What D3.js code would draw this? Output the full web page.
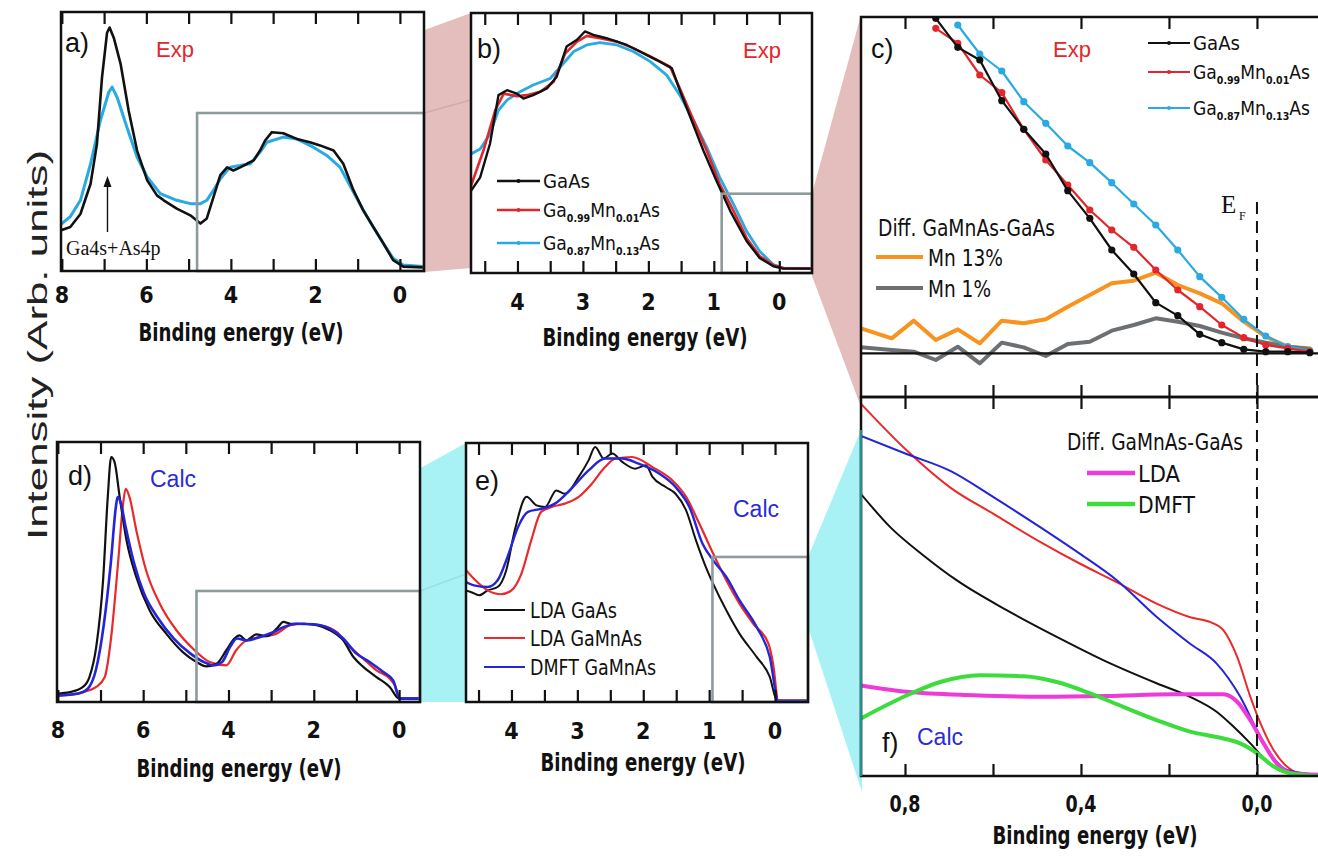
<!DOCTYPE html>
<html>
<head>
<meta charset="utf-8">
<script src="https://cdn.jsdelivr.net/npm/d3@7"></script>
<style>
  body { margin: 0; background: #fff; }
  svg { display: block; }
</style>
</head>
<body>
<svg id="fig" width="1318" height="856"></svg>
<script>
// ---- data (binding energy in eV, intensity in arb. units) ----

// panel a) experiment, wide range
const aGaAsE = [8.0,7.8,7.56,7.32,7.17,7.05,6.93,6.87,6.77,6.61,6.42,6.22,5.98,5.75,5.59,5.28,4.96,4.72,4.57,4.41,4.25,4.09,3.94,3.78,3.62,3.46,3.31,3.19,3.03,2.76,2.44,2.13,1.89,1.57,1.34,1.1,0.87,0.63,0.39,0.16,-0.08,-0.55];
const aGaAsI = [15.8,17,22,33.7,49,74.7,92,94,90,80,62,46.5,35,29.2,27.3,24.1,21.5,18.3,20.3,28.6,37,40,38.8,40,41.4,42.7,46.5,50.4,53.6,53.2,51,49.7,48.5,46.5,41.4,31.2,23.5,17,10.6,4.2,1.7,1.4];
const aMn13E = [8.0,7.8,7.56,7.32,7.09,6.89,6.81,6.69,6.46,6.22,5.98,5.67,5.28,4.96,4.72,4.57,4.41,4.25,4.02,3.78,3.54,3.31,3.15,2.76,2.44,2.05,1.73,1.42,1.1,0.87,0.63,0.39,0.16,-0.08,-0.55];
const aMn13I = [18.3,21,27.3,41.4,58,69,71,67,55.5,44,36.3,29.9,27.3,26,26,27.3,31.2,35.6,40.1,40.7,41.4,45.9,49.7,51.7,51,47.8,44.6,40.1,30.5,23.5,17,10.6,4.9,2.3,1.7];

// panel b) experiment, valence band
const bGaAsE = [4.71,4.57,4.42,4.29,4.16,4.01,3.91,3.76,3.55,3.4,3.25,3.09,2.97,2.84,2.64,2.33,2.13,1.87,1.64,1.52,1.36,1.16,0.96,0.75,0.5,0.3,0.09,-0.06,-0.5];
const bGaAsI = [31.6,36.8,49.7,68.4,70.3,69,67.1,68.4,71,75.5,87.1,89.7,92.9,91.6,90.3,87.7,85.2,81.9,78.7,70.3,60,47.1,35.5,23.9,12.3,5.8,2.6,1.7,1.7];
const bMn01E = [4.71,4.52,4.34,4.21,4.01,3.86,3.65,3.45,3.27,3.09,2.94,2.74,2.48,2.23,1.92,1.67,1.52,1.31,1.11,0.91,0.7,0.5,0.3,0.09,-0.06,-0.5];
const bMn01I = [33.5,47.1,62.6,69,68,68.4,69.7,73.5,84.5,89,91.2,90.3,89,86.5,82.6,79.4,71,58.7,47.1,34.2,23.9,13.5,6.5,3,1.9,1.7];
const bMn13E = [4.71,4.57,4.42,4.29,4.16,3.96,3.76,3.5,3.32,3.14,2.94,2.74,2.48,2.23,1.97,1.72,1.52,1.31,1.11,0.91,0.7,0.5,0.3,0.09,-0.06,-0.5];
const bMn13I = [45.8,47.7,53.5,62.6,66.5,69.7,72.3,74.8,80,85.2,87.7,88.6,87.7,85.2,81.3,76.1,68.4,58.7,48.4,36.8,26.5,16.1,8.4,3.2,1.9,1.7];

// panel c) experiment near E_F
const cExpE = [0.73,0.68,0.63,0.58,0.53,0.48,0.43,0.38,0.33,0.28,0.23,0.18,0.13,0.08,0.03,-0.02,-0.07,-0.12];
const cGaAs = [100.5,91.8,88,75.8,67.2,59.8,48.8,40.5,31,23.8,15.2,11.3,5.7,3.2,1.2,0.5,0.5,0.2];
const cMn01 = [97.5,93,83.5,78.2,67.2,58,50.5,43,37,31.8,25,19,14,8.5,4.7,2.5,1.5,0.5];
const cMn13E = [0.68,0.63,0.58,0.53,0.48,0.43,0.38,0.33,0.28,0.23,0.18,0.13,0.08,0.03,-0.02,-0.07,-0.12];
const cMn13 = [98.5,89.8,84.7,75.5,69,62.2,57.2,51.2,44.8,38.5,31,23,16.8,10.2,5.2,2,0.8];
const cDiffE = [0.9,0.83,0.78,0.73,0.68,0.63,0.58,0.53,0.48,0.43,0.38,0.33,0.28,0.23,0.18,0.13,0.08,0.03,-0.02,-0.07,-0.12];
const cDiff13 = [7.5,4.5,9.8,4,7.2,3,9.8,9,10.2,14,17.5,21,21.8,24.2,20.5,18,15,9.5,5,2,1.5];
const cDiff01 = [1.8,1.0,0.5,-2,2,-3,3.2,1.8,-0.8,2.8,3.5,6.8,8.5,10.5,9.5,8.2,6.2,4.5,3.2,2,1.2];

// panel d) calculation, wide range
const dLdaGaAsE = [8.04,7.72,7.41,7.26,7.1,6.94,6.83,6.75,6.67,6.55,6.39,6.16,5.85,5.46,5.07,4.75,4.52,4.28,4.05,3.86,3.74,3.58,3.35,3.1,2.87,2.71,2.55,2.24,1.93,1.62,1.31,1.07,0.84,0.53,0.22,0,-0.5];
const dLdaGaAs = [3.2,3.8,5.8,9.6,21.2,46.8,78.8,94.2,92.3,78.8,62.2,48,35.3,26.3,19.2,15.4,13.7,14.7,19.9,24.4,25.6,23.7,26,25.3,28.2,30.8,30.1,30.1,29.5,27.6,23.7,17.3,13.5,9.6,5.8,1.3,1.3];
const dLdaMnE = [8.04,7.41,7.1,6.9,6.75,6.59,6.47,6.41,6.32,6.16,5.93,5.61,5.22,4.83,4.44,4.05,3.82,3.58,3.26,2.87,2.55,2.24,1.85,1.46,1.15,0.84,0.53,0.22,0.1,-0.02,-0.5];
const dLdaMn = [2.2,3.8,5.8,9.6,25,53.2,76.3,82,78.8,66,50.6,37.8,27.6,20.5,15.4,14.1,19.9,23.7,25,26.3,29.5,30.1,29.5,26.9,21.2,16.7,12.2,9,6.4,1.3,1.3];
const dDmftE = [8.04,7.54,7.3,7.11,6.92,6.76,6.64,6.6,6.53,6.41,6.21,5.98,5.67,5.28,4.89,4.58,4.35,4.15,3.96,3.8,3.57,3.26,2.94,2.71,2.4,2.01,1.62,1.31,1.0,0.69,0.37,0.14,-0.02,-0.5];
const dDmft = [2.6,3.2,5.1,12.2,30.1,53.2,75,78.8,76.9,67.3,53.2,41.7,32.7,24.4,18.6,15.4,14.1,15.4,21.2,24.4,23.7,25,26.9,28.8,30.1,29.9,28.2,24.4,18.6,15.4,11.5,8.3,1.3,1.3];

// panel e) calculation, valence band
const eLdaGaAsE = [4.73,4.62,4.49,4.36,4.21,4.08,3.95,3.77,3.62,3.49,3.32,3.19,2.98,2.83,2.73,2.6,2.47,2.32,2.12,1.96,1.86,1.66,1.51,1.35,1.2,1.05,0.94,0.74,0.54,0.28,0.08,-0.03,-0.5];
const eLdaGaAs = [43.1,42.5,41.2,43.1,44.4,50.8,66.3,79.2,75.9,75.3,81.7,80.4,86.9,93.3,98.5,94,95.9,92.7,90.1,91.4,86.9,83,80.4,74,62.4,52.1,45.7,35.4,26.4,17.4,9.7,0.5,0.5];
const eLdaMnE = [4.73,4.57,4.36,4.16,4.0,3.85,3.7,3.55,3.39,3.19,2.98,2.78,2.58,2.42,2.17,1.86,1.56,1.35,1.15,0.94,0.74,0.54,0.33,0.1,0.03,-0.05,-0.5];
const eLdaMn = [52.1,47.6,43.1,41.6,43.1,49.5,62.4,73.4,75.3,76.6,79.2,84.3,90.7,94,94.6,90.7,85.6,79.2,68.9,57.3,47,38,30.2,22.5,14.8,0.5,0.5];
const eDmftE = [4.73,4.57,4.36,4.21,4.06,3.9,3.75,3.55,3.34,3.09,2.83,2.58,2.32,2.07,1.76,1.51,1.3,1.1,0.94,0.74,0.54,0.28,0.08,-0.05,-0.5];
const eDmft = [47,45,44.4,47,56,67.6,73.4,74.6,76.6,82.4,89.4,94,94,92,88.2,83,75.3,61.1,54.7,48.3,39.3,29,17.4,0.5,0.5];

// panel f) calculation near E_F
const fLdaMnE = [0.9,0.795,0.697,0.598,0.492,0.402,0.318,0.227,0.152,0.106,0.076,0.045,0.015,-0.008,-0.038,-0.068,-0.098,-0.14];
const fLdaMn = [98.2,85.8,76.1,69.1,61.7,56,51.1,45.4,41.9,40.6,38.4,31.4,20.9,13.9,6.8,2.5,0.7,0.3];
const fDmftE = [0.9,0.795,0.697,0.598,0.492,0.402,0.318,0.227,0.152,0.091,0.038,0,-0.03,-0.068,-0.14];
const fDmft = [89.7,84.9,80.5,73.5,65.6,58.6,51.6,41.9,34.9,29.6,20.9,12.1,6,1.6,0.3];
const fLdaGaAsE = [0.9,0.833,0.758,0.682,0.568,0.455,0.341,0.227,0.152,0.091,0.053,0.015,-0.023,-0.061,-0.14];
const fLdaGaAs = [74.4,65.6,58.2,51.6,43.7,36.7,30.1,24.4,20.9,16.9,13,8.6,3.8,1.1,0];
const fDiffLdaE = [0.9,0.795,0.644,0.492,0.341,0.189,0.076,0.045,0.015,-0.015,-0.045,-0.083,-0.14];
const fDiffLda = [23.9,22.2,21.3,20.9,21.1,21.6,21.6,19.6,14.7,8.6,3.3,0.7,0.3];
const fDiffDmftE = [0.9,0.795,0.72,0.629,0.53,0.455,0.379,0.303,0.227,0.152,0.076,0.038,0,-0.038,-0.076,-0.14];
const fDiffDmft = [15.2,21.3,24.8,26.6,26.3,24.8,21.8,18.2,14.7,11.7,9.9,8.6,6,2.5,0.7,0];

// tick values and labels
const wideTicks = [0,1,2,3,4,5,6,7,8];
const wideLabels = [8,6,4,2,0];
const vbTicks = [0,0.5,1,1.5,2,2.5,3,3.5,4,4.5];
const vbLabels = [4,3,2,1,0];
const efTicks = [0.8,0.6,0.4,0.2,0];
const efLabels = [0.8,0.4,0];

// ---- styling ----
const NARROW = '"Liberation Sans Narrow","Arial Narrow","DejaVu Sans Condensed",sans-serif';
const SANS = '"Liberation Sans",Arial,sans-serif';
const SERIF = '"Liberation Serif","Times New Roman",serif';
const C = {
  ink: '#111', expRed: '#e3262c', expCyan: '#2aaae2', red: '#ea2a2a', blue: '#2424d8',
  orange: '#f7931e', gray: '#6d7073', magenta: '#ee3bd8', green: '#3ddc3d',
  box: '#8d9b9d', pink: '#e4bdbd', cyan: '#a8f1f5', calc: '#2a2ad8'
};

const svg = d3.select('#fig');
const defs = svg.append('defs');
const layerWedge = svg.append('g');
const layerBg = svg.append('g');
const layerData = svg.append('g');
const layerFrame = svg.append('g');
const layerText = svg.append('g');

function panel(id, px, py, xd, yd) {
  const x = d3.scaleLinear().domain(xd).range(px);
  const y = d3.scaleLinear().domain(yd).range(py);
  defs.append('clipPath').attr('id', 'clip-' + id)
    .append('rect').attr('x', px[0]).attr('y', py[1])
    .attr('width', px[1] - px[0]).attr('height', py[0] - py[1]);
  layerBg.append('rect').attr('x', px[0]).attr('y', py[1])
    .attr('width', px[1] - px[0]).attr('height', py[0] - py[1]).attr('fill', '#fff');
  const g = layerData.append('g').attr('clip-path', `url(#clip-${id})`);
  return { id, x, y, g, px, py };
}

function frame(p) {
  layerFrame.append('rect').attr('x', p.px[0]).attr('y', p.py[1])
    .attr('width', p.px[1] - p.px[0]).attr('height', p.py[0] - p.py[1])
    .attr('fill', 'none').attr('stroke', C.ink).attr('stroke-width', 2.5);
}

function ticks(p, vals, where, len) {
  const ax = where === 'top' ? d3.axisTop(p.x) : d3.axisBottom(p.x);
  const g = layerFrame.append('g')
    .attr('transform', `translate(0,${where === 'top' ? p.py[1] : p.py[0]})`)
    .call(ax.tickValues(vals).tickSizeInner(-len).tickSizeOuter(0).tickFormat(''));
  g.select('.domain').remove();
  g.selectAll('line').attr('stroke', C.ink).attr('stroke-width', 2.2);
}

function tickLabels(p, vals, baseline, fmt, len) {
  const t = layerText.append('g').selectAll('text').data(vals).join('text')
    .attr('x', d => p.x(d)).attr('y', baseline)
    .attr('text-anchor', 'middle')
    .attr('font-family', NARROW).attr('font-weight', 'bold').attr('font-size', 23)
    .attr('fill', C.ink)
    .text(fmt || (d => d));
  if (len) t.attr('textLength', len).attr('lengthAdjust', 'spacingAndGlyphs');
}

function xTitle(cx, baseline) {
  layerText.append('text').attr('x', cx).attr('y', baseline)
    .attr('text-anchor', 'middle').attr('font-family', NARROW)
    .attr('font-weight', 'bold').attr('font-size', 24).attr('fill', C.ink)
    .attr('textLength', 205).attr('lengthAdjust', 'spacingAndGlyphs')
    .text('Binding energy (eV)');
}

function curve(p, E, I, color, width, kind, dotR) {
  const pts = E.map((e, i) => [e, I[i]]);
  const line = d3.line().x(d => p.x(d[0])).y(d => p.y(d[1]))
    .curve(kind === 'smooth' ? d3.curveMonotoneX : d3.curveLinear);
  p.g.append('path').datum(pts).attr('d', line)
    .attr('fill', 'none').attr('stroke', color).attr('stroke-width', width)
    .attr('stroke-linejoin', 'round').attr('stroke-linecap', 'round');
  if (dotR) {
    p.g.append('g').selectAll('circle').data(pts).join('circle')
      .attr('cx', d => p.x(d[0])).attr('cy', d => p.y(d[1])).attr('r', dotR)
      .attr('fill', color);
  }
}

function zoomBox(p, eLeft, vTop) {
  layerFrame.append('rect')
    .attr('x', p.x(eLeft)).attr('y', p.y(vTop))
    .attr('width', p.px[1] - p.x(eLeft)).attr('height', p.py[0] - p.y(vTop))
    .attr('fill', 'none').attr('stroke', C.box).attr('stroke-width', 2.6);
}

function label(x, y, txt, opts) {
  const t = layerText.append('text').attr('x', x).attr('y', y)
    .attr('font-family', opts.font || SANS).attr('font-size', opts.size || 22)
    .attr('fill', opts.color || C.ink).text(txt);
  if (opts.weight) t.attr('font-weight', opts.weight);
  if (opts.anchor) t.attr('text-anchor', opts.anchor);
  if (opts.len) t.attr('textLength', opts.len).attr('lengthAdjust', 'spacingAndGlyphs');
  return t;
}

// formula with subscripts, e.g. Ga_{0.99}Mn_{0.01}As
function formula(x, y, parts, size, len) {
  const t = layerText.append('text').attr('x', x).attr('y', y)
    .attr('font-family', NARROW).attr('font-size', size).attr('fill', C.ink);
  let shift = 0;
  parts.forEach(([s, sub]) => {
    const ts = t.append('tspan').text(s);
    if (sub && shift === 0) { ts.attr('dy', 5).attr('font-size', size * 0.55).attr('font-weight', 'bold'); shift = 5; }
    else if (!sub && shift !== 0) { ts.attr('dy', -5); shift = 0; }
  });
  if (len) t.attr('textLength', len).attr('lengthAdjust', 'spacingAndGlyphs');
  return t;
}

function legendLine(x0, x1, y, color, width, dot) {
  layerText.append('line').attr('x1', x0).attr('x2', x1).attr('y1', y).attr('y2', y)
    .attr('stroke', color).attr('stroke-width', width);
  if (dot) layerText.append('circle').attr('cx', (x0 + x1) / 2).attr('cy', y).attr('r', 2).attr('fill', color);
}

// ---- panels ----
const pa = panel('a', [61, 424], [271, 12], [8.02, -0.57], [0, 100]);
const pb = panel('b', [471, 812], [273, 13], [4.71, -0.5], [0, 100]);
const pc = panel('c', [861, 1330], [397, 17], [0.9, -0.166], [-13.1, 100.9]);
const pd = panel('d', [57, 420], [702, 442], [8.02, -0.49], [0, 100]);
const pe = panel('e', [466, 808], [702, 443], [4.69, -0.5], [0, 100]);
const pf = panel('f', [861, 1330], [776, 397], [0.9, -0.166], [0, 100]);

// zoom wedges behind panels
const wedges = [
  { fill: C.pink, pts: [[pa.x(4.8), pa.y(61)], [pb.px[0], pb.py[1]], [pb.px[0], pb.py[0] - 5], [pa.px[1], pa.py[0] + 1]] },
  { fill: C.pink, pts: [[pb.px[1], pb.y(30.5)], [pc.px[0], pc.py[1] - 2], [pc.px[0], pc.py[0] + 10], [pb.px[1], pb.py[0] + 3]] },
  { fill: C.cyan, pts: [[pd.x(4.75), pd.y(42.7)], [pe.px[0], pe.py[1]], [pe.px[0], pe.py[0]], [pd.px[1], pd.py[0]]] },
  { fill: C.cyan, pts: [[pe.px[1], pe.y(56)], [pf.px[0], 430], [pf.px[0] + 1, 792], [pe.px[1], 627]] }
];
layerWedge.selectAll('polygon').data(wedges).join('polygon')
  .attr('points', d => d.pts.map(p => p.join(',')).join(' '))
  .attr('fill', d => d.fill);
layerWedge.append('line').attr('x1', pa.px[1]).attr('y1', pa.y(61)).attr('x2', pb.px[0]).attr('y2', 100)
  .attr('stroke', '#d6a9a9').attr('stroke-width', 1.5);
layerWedge.append('line').attr('x1', pd.px[1]).attr('y1', pd.y(42.7)).attr('x2', pe.px[0]).attr('y2', 574)
  .attr('stroke', '#9adfe3').attr('stroke-width', 1.5);

// a)
curve(pa, aMn13E, aMn13I, C.expCyan, 3, 'lin');
curve(pa, aGaAsE, aGaAsI, C.ink, 2.6, 'lin');
zoomBox(pa, 4.8, 61);
frame(pa);
ticks(pa, wideTicks, 'top', 12); ticks(pa, wideTicks, 'bottom', 12);
tickLabels(pa, wideLabels, 303);
xTitle(241, 341);

// b)
curve(pb, bMn13E, bMn13I, C.expCyan, 2.8, 'lin');
curve(pb, bMn01E, bMn01I, C.expRed, 2.6, 'lin');
curve(pb, bGaAsE, bGaAsI, C.ink, 2.4, 'lin');
zoomBox(pb, 0.88, 30.5);
frame(pb);
ticks(pb, vbTicks, 'top', 12); ticks(pb, vbTicks, 'bottom', 12);
tickLabels(pb, vbLabels, 310);
xTitle(645, 346);

// c)
curve(pc, cDiffE, cDiff13, C.orange, 4, 'lin');
curve(pc, cDiffE, cDiff01, C.gray, 4, 'lin');
curve(pc, cMn13E, cMn13, C.expCyan, 2.2, 'lin', 3.6);
curve(pc, cExpE, cMn01, C.expRed, 2.2, 'lin', 3.6);
curve(pc, cExpE, cGaAs, C.ink, 2.2, 'lin', 3.6);
layerFrame.append('line').attr('x1', pc.px[0]).attr('x2', 1318)
  .attr('y1', pc.y(0)).attr('y2', pc.y(0)).attr('stroke', C.ink).attr('stroke-width', 2.2);
frame(pc);
ticks(pc, efTicks, 'top', 12); ticks(pc, efTicks, 'bottom', 12);

// d)
curve(pd, dLdaMnE, dLdaMn, C.red, 2.2, 'smooth');
curve(pd, dLdaGaAsE, dLdaGaAs, C.ink, 2.2, 'smooth');
curve(pd, dDmftE, dDmft, C.blue, 2.6, 'smooth');
zoomBox(pd, 4.75, 42.7);
frame(pd);
ticks(pd, wideTicks, 'top', 12); ticks(pd, wideTicks, 'bottom', 12);
tickLabels(pd, wideLabels, 738);
xTitle(239, 777);

// e)
curve(pe, eLdaGaAsE, eLdaGaAs, C.ink, 2, 'smooth');
curve(pe, eLdaMnE, eLdaMn, C.red, 2.2, 'smooth');
curve(pe, eDmftE, eDmft, C.blue, 2.4, 'smooth');
zoomBox(pe, 0.95, 56);
frame(pe);
ticks(pe, vbTicks, 'top', 12); ticks(pe, vbTicks, 'bottom', 12);
tickLabels(pe, vbLabels, 739);
xTitle(643, 771);

// f)
curve(pf, fLdaGaAsE, fLdaGaAs, C.ink, 2, 'smooth');
curve(pf, fLdaMnE, fLdaMn, C.red, 2, 'smooth');
curve(pf, fDmftE, fDmft, C.blue, 2, 'smooth');
curve(pf, fDiffLdaE, fDiffLda, C.magenta, 4, 'smooth');
curve(pf, fDiffDmftE, fDiffDmft, C.green, 4, 'smooth');
frame(pf);
layerFrame.append('line').attr('x1', pf.px[0]).attr('x2', pf.px[0]).attr('y1', 430).attr('y2', pf.py[0])
  .attr('stroke', '#2c8b8d').attr('stroke-width', 2.5);
ticks(pf, efTicks, 'top', 12); ticks(pf, efTicks, 'bottom', 12);
tickLabels(pf, efLabels, 812, d => d3.format('.1f')(d).replace('.', ','), 31);
xTitle(1095, 844);

// Fermi level
layerFrame.append('line').attr('x1', pc.x(0)).attr('x2', pc.x(0)).attr('y1', 202).attr('y2', pf.py[0])
  .attr('stroke', C.ink).attr('stroke-width', 2).attr('stroke-dasharray', '12,7');
label(1221, 213, 'E', { font: SERIF, size: 25 });
label(1239, 220, 'F', { font: SERIF, size: 12 });

// panel labels
label(65, 52, 'a)', { size: 27 });
label(156, 57, 'Exp', { size: 22, color: C.expRed });
label(477, 58, 'b)', { size: 27 });
label(743, 58, 'Exp', { size: 22, color: C.expRed });
label(871, 58, 'c)', { size: 27 });
label(1053, 57, 'Exp', { size: 22, color: C.expRed });
label(68, 485, 'd)', { size: 27 });
label(150, 487, 'Calc', { size: 23, color: C.calc });
label(475, 490, 'e)', { size: 27 });
label(733, 517, 'Calc', { size: 23, color: C.calc });
label(882, 752, 'f)', { size: 27 });
label(917, 745, 'Calc', { size: 23, color: C.calc });

// a) annotation
layerText.append('line').attr('x1', pa.x(6.92)).attr('x2', pa.x(6.92)).attr('y1', 232).attr('y2', 184)
  .attr('stroke', C.ink).attr('stroke-width', 1.4);
layerText.append('path')
  .attr('d', `M${pa.x(6.92)},176 l-4,11 l8,0 z`).attr('fill', C.ink);
label(66, 255, 'Ga4s+As4p', { font: SERIF, size: 20 });

// b) legend
const bLegend = [
  { color: C.ink, y: 181, parts: [['GaAs']], len: 47 },
  { color: C.expRed, y: 210, parts: [['Ga'], ['0.99', 1], ['Mn'], ['0.01', 1], ['As']], len: 117 },
  { color: C.expCyan, y: 243, parts: [['Ga'], ['0.87', 1], ['Mn'], ['0.13', 1], ['As']], len: 117 }
];
bLegend.forEach(r => {
  legendLine(497, 540, r.y, r.color, 2.4, true);
  formula(543, r.y + 7, r.parts, 20, r.len);
});

// c) legends
const cLegend = [
  { color: C.ink, y: 43, parts: [['GaAs']], len: 47 },
  { color: C.expRed, y: 72, parts: [['Ga'], ['0.99', 1], ['Mn'], ['0.01', 1], ['As']], len: 117 },
  { color: C.expCyan, y: 108, parts: [['Ga'], ['0.87', 1], ['Mn'], ['0.13', 1], ['As']], len: 117 }
];
cLegend.forEach(r => {
  legendLine(1148, 1190, r.y, r.color, 2, true);
  formula(1193, r.y + 7, r.parts, 20, r.len);
});
label(878, 236, 'Diff. GaMnAs-GaAs', { font: NARROW, size: 23, len: 177 });
legendLine(876, 923, 257, C.orange, 4);
label(928, 266, 'Mn 13%', { font: NARROW, size: 23, len: 75 });
legendLine(876, 923, 288, C.gray, 4);
label(928, 297, 'Mn 1%', { font: NARROW, size: 23, len: 63 });

// e) legend
const eLegend = [
  { color: C.ink, y: 610, text: 'LDA GaAs', len: 87 },
  { color: C.red, y: 638, text: 'LDA GaMnAs', len: 112 },
  { color: C.blue, y: 667, text: 'DMFT GaMnAs', len: 126 }
];
eLegend.forEach(r => {
  legendLine(484, 525, r.y, r.color, 2);
  label(530, r.y + 8, r.text, { font: NARROW, size: 22, len: r.len });
});

// f) legend
label(1067, 450, 'Diff. GaMnAs-GaAs', { font: NARROW, size: 23, len: 176 });
legendLine(1087, 1135, 473, C.magenta, 4.5);
label(1138, 482, 'LDA', { font: NARROW, size: 23, len: 42 });
legendLine(1087, 1135, 504, C.green, 4.5);
label(1138, 513, 'DMFT', { font: NARROW, size: 23, len: 57 });

// shared y label
layerText.append('text')
  .attr('transform', 'translate(47,345) rotate(-90)')
  .attr('text-anchor', 'middle').attr('font-family', SANS).attr('font-size', 28)
  .attr('fill', '#222').attr('textLength', 390).attr('lengthAdjust', 'spacingAndGlyphs')
  .text('Intensity (Arb. units)');
</script>
</body>
</html>
